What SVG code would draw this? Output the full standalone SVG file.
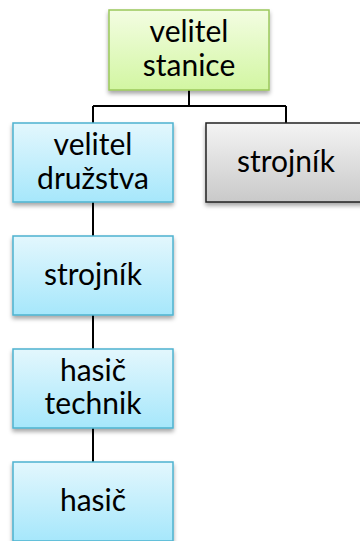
<svg xmlns="http://www.w3.org/2000/svg" width="360" height="541" viewBox="0 0 360 541">
<style>
text{font-family:Lato,"Open Sans","Liberation Sans",sans-serif;font-size:30px;fill:#000;text-anchor:middle}
.conn{stroke:#000;stroke-width:2;fill:none}
.box{stroke-width:1.5}
</style>
<defs>
<linearGradient id="gG" x1="0" y1="0" x2="0" y2="1"><stop offset="0" stop-color="#f3fde2"/><stop offset="1" stop-color="#d2f6a2"/></linearGradient>
<linearGradient id="gB" x1="0" y1="0" x2="0" y2="1"><stop offset="0" stop-color="#e3f7fd"/><stop offset="1" stop-color="#a6e7fb"/></linearGradient>
<linearGradient id="gS" x1="0" y1="0" x2="0" y2="1"><stop offset="0" stop-color="#f4f4f4"/><stop offset="1" stop-color="#c9c9c9"/></linearGradient>
<filter id="sh" x="-10%" y="-10%" width="120%" height="130%"><feDropShadow dx="0" dy="3" stdDeviation="2" flood-color="#000" flood-opacity="0.35"/></filter>
</defs>
<g id="connectors">
<path class="conn" d="M189 90V106M93 106H286M93 106V123M286 106V123M93 202V236M93 315V349M93 428V462"/>
</g>
<g id="velitel-stanice">
<rect class="box" x="109" y="10" width="160" height="80" fill="url(#gG)" stroke="#9bc85b" filter="url(#sh)"/>
<text x="189" y="42">velitel</text><text x="189" y="76">stanice</text>
</g>
<g id="velitel-druzstva">
<rect class="box" x="13" y="123" width="160" height="79" fill="url(#gB)" stroke="#4eb3cf" filter="url(#sh)"/>
<text x="93" y="155">velitel</text><text x="93" y="189">družstva</text>
</g>
<g id="strojnik-gray">
<rect class="box" x="206" y="123" width="160" height="79" fill="url(#gS)" stroke="#222" filter="url(#sh)"/>
<text x="286" y="172">strojník</text>
</g>
<g id="strojnik">
<rect class="box" x="13" y="236" width="160" height="79" fill="url(#gB)" stroke="#4eb3cf" filter="url(#sh)"/>
<text x="93" y="285">strojník</text>
</g>
<g id="hasic-technik">
<rect class="box" x="13" y="349" width="160" height="79" fill="url(#gB)" stroke="#4eb3cf" filter="url(#sh)"/>
<text x="93" y="381">hasič</text><text x="93" y="414">technik</text>
</g>
<g id="hasic">
<rect class="box" x="13" y="462" width="160" height="79" fill="url(#gB)" stroke="#4eb3cf" filter="url(#sh)"/>
<text x="93" y="511">hasič</text>
</g>
</svg>
